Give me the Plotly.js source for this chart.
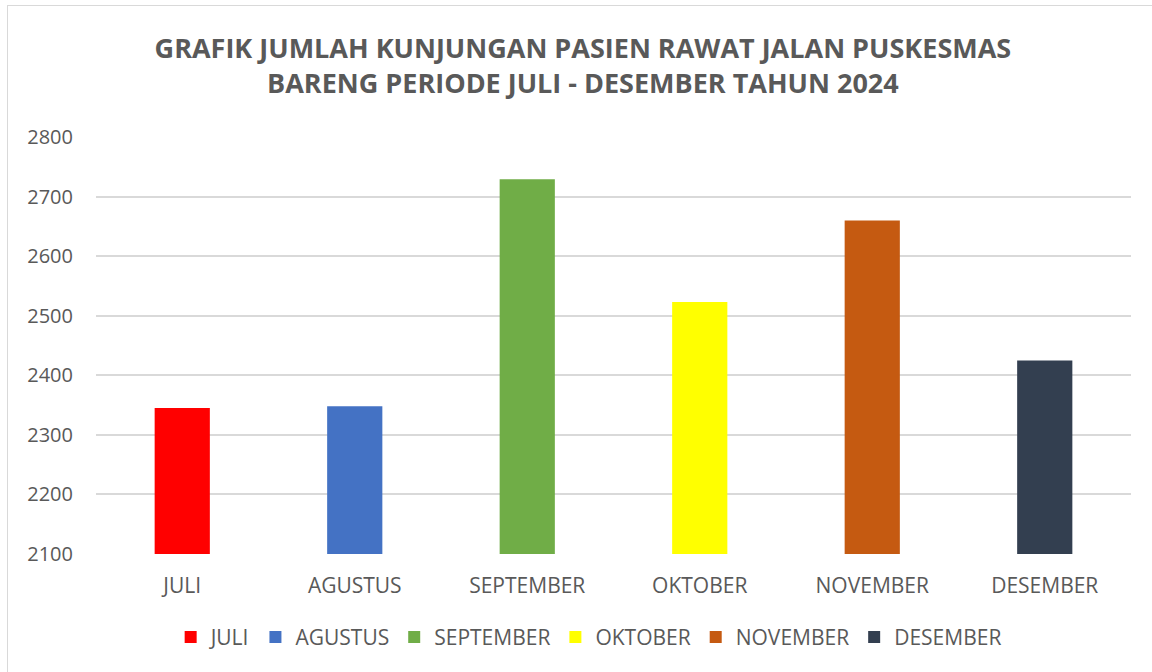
<!DOCTYPE html>
<html>
<head>
<meta charset="utf-8">
<script src="https://cdn.plot.ly/plotly-3.0.1.min.js"></script>
<style>
  html, body { margin: 0; padding: 0; background: #ffffff; overflow: hidden; }
  #wrap { position: absolute; left: 0; top: 0; width: 1152px; height: 672px; }
  #frame { position: absolute; left: 7px; top: 5px; width: 1160px; height: 680px; border: 1px solid #d9d9d9; box-sizing: border-box; pointer-events: none; z-index: 5; }
  #chart { position: absolute; left: 0; top: 0; width: 1152px; height: 672px; }
</style>
</head>
<body>
<div id="wrap">
  <div id="chart"></div>
  <div id="frame"></div>
</div>
<script>
const months = ["JULI", "AGUSTUS", "SEPTEMBER", "OKTOBER", "NOVEMBER", "DESEMBER"];
const visits = [2345, 2348, 2729, 2523, 2660, 2425];
const barColors = ["#FF0000", "#4472C4", "#70AD47", "#FFFF00", "#C55A11", "#333F50"];
const yTicks = [2100, 2200, 2300, 2400, 2500, 2600, 2700, 2800];
const titleLines = [
  "GRAFIK JUMLAH KUNJUNGAN PASIEN RAWAT JALAN PUSKESMAS",
  "BARENG PERIODE JULI - DESEMBER TAHUN 2024"
];

const FONT = "Open Sans, Liberation Sans, sans-serif";
const GREY = "#595959";

const traces = months.map((m, i) => ({
  type: "bar",
  name: m,
  x: [m],
  y: [visits[i]],
  width: 0.32,
  marker: { color: barColors[i] },
  hoverinfo: "x+y"
}));

const layout = {
  width: 1152,
  height: 672,
  paper_bgcolor: "#ffffff",
  plot_bgcolor: "#ffffff",
  margin: { l: 96, r: 21, t: 137, b: 118, autoexpand: false },
  barmode: "overlay",
  showlegend: true,
  font: { family: FONT, color: GREY, size: 21 },
  title: {
    text: titleLines.join("<br>"),
    font: { family: FONT, size: 27, color: GREY, weight: "bold" },
    xref: "container",
    x: 0.506,
    xanchor: "center",
    yref: "container",
    y: 0.914,
    yanchor: "bottom"
  },
  xaxis: {
    type: "category",
    categoryorder: "array",
    categoryarray: months,
    showgrid: false,
    zeroline: false,
    showline: false,
    ticks: "",
    tickangle: 0,
    automargin: false,
    ticklabelstandoff: 17,
    tickfont: { family: FONT, size: 21, color: GREY }
  },
  yaxis: {
    range: [2100, 2800],
    tickvals: yTicks,
    ticktext: yTicks.map(String),
    showgrid: true,
    gridcolor: "#d9d9d9",
    gridwidth: 2,
    zeroline: false,
    showline: false,
    ticks: "",
    automargin: false,
    ticklabelstandoff: 22,
    tickfont: { family: FONT, size: 20, color: GREY }
  },
  legend: {
    orientation: "h",
    xref: "paper",
    x: 0.476,
    xanchor: "center",
    y: -0.2,
    yanchor: "middle",
    font: { family: FONT, size: 21, color: GREY },
    itemwidth: 30,
    traceorder: "normal",
    bgcolor: "rgba(0,0,0,0)"
  }
};

Plotly.newPlot("chart", traces, layout, { displayModeBar: false, staticPlot: true });
</script>
</body>
</html>
